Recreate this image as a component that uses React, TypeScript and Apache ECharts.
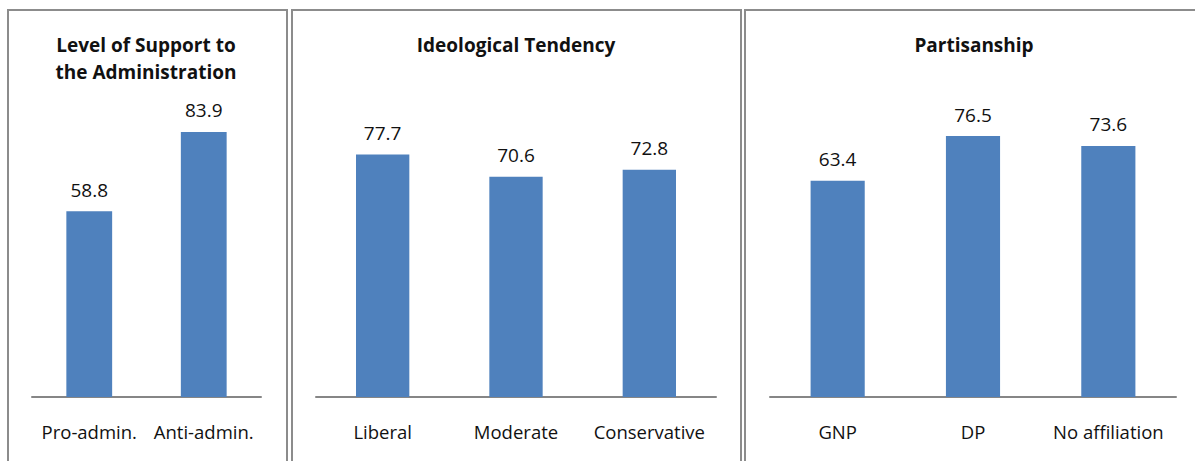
import React, { useEffect, useRef } from "react";
import * as echarts from "echarts";

// Support scores by respondent group
const supportCategories = ["Pro-admin.", "Anti-admin."];
const supportValues = [58.8, 83.9];

const ideologyCategories = ["Liberal", "Moderate", "Conservative"];
const ideologyValues = [77.7, 70.6, 72.8];

const partyCategories = ["GNP", "DP", "No affiliation"];
const partyValues = [63.4, 76.5, 73.6];

const panelTitles = [
  "Level of Support to\nthe Administration",
  "Ideological Tendency",
  "Partisanship",
];

const FONT = "'Open Sans', 'Noto Sans', sans-serif";
const BAR = "#4f81bd";
const BORDER = "#8c8c8c";

export default function App() {
  const ref = useRef<HTMLDivElement>(null);

  useEffect(() => {
    if (!ref.current) return;
    const chart = echarts.init(ref.current, undefined, { renderer: "svg" });

    const grids = [
      { left: 32, width: 229, top: 81, bottom: 64 },
      { left: 316, width: 400, top: 85, bottom: 64 },
      { left: 770, width: 406, top: 90, bottom: 64 },
    ];
    const maxes = [100, 100, 90];
    const cats = [supportCategories, ideologyCategories, partyCategories];
    const vals = [supportValues, ideologyValues, partyValues];

    const panels = [
      { x: 8, w: 279 },
      { x: 292, w: 449 },
      { x: 745, w: 470 },
    ];
    const titleCenters = [146, 516, 974];

    chart.setOption({
      animation: false,
      backgroundColor: "#ffffff",
      grid: grids.map((g) => ({ ...g, containLabel: false })),
      xAxis: cats.map((c, i) => ({
        type: "category",
        gridIndex: i,
        data: c,
        axisLine: { show: true, lineStyle: { color: "#868686", width: 2 } },
        axisTick: { show: false },
        axisLabel: {
          color: "#111",
          fontFamily: FONT,
          fontSize: 18.5,
          margin: 25,
          interval: 0,
        },
      })),
      yAxis: cats.map((_, i) => ({
        type: "value",
        gridIndex: i,
        min: 0,
        max: maxes[i],
        show: false,
        splitLine: { show: false },
      })),
      series: vals.map((v, i) => ({
        type: "bar",
        xAxisIndex: i,
        yAxisIndex: i,
        data: v,
        barWidth: "40%",
        itemStyle: { color: BAR },
        label: {
          show: true,
          position: "top",
          distance: 12,
          color: "#111",
          fontFamily: FONT,
          fontSize: 19,
          formatter: (p: any) => p.value.toFixed(1),
        },
      })),
      graphic: [
        ...panels.map((p) => ({
          type: "rect",
          shape: { x: p.x, y: 10, width: p.w, height: 470 },
          style: { fill: "none", stroke: BORDER, lineWidth: 2 },
          silent: true,
        })),
        ...panelTitles.map((t, i) => ({
          type: "text",
          x: titleCenters[i],
          y: 31,
          style: {
            text: t,
            fill: "#111",
            font: `bold 19px ${FONT}`,
            align: "center",
            verticalAlign: "top",
            lineHeight: 27,
          },
        })),
      ],
    });

    return () => chart.dispose();
  }, []);

  return (
    <div
      ref={ref}
      style={{ position: "absolute", left: 0, top: 0, width: 1195, height: 461 }}
    />
  );
}
